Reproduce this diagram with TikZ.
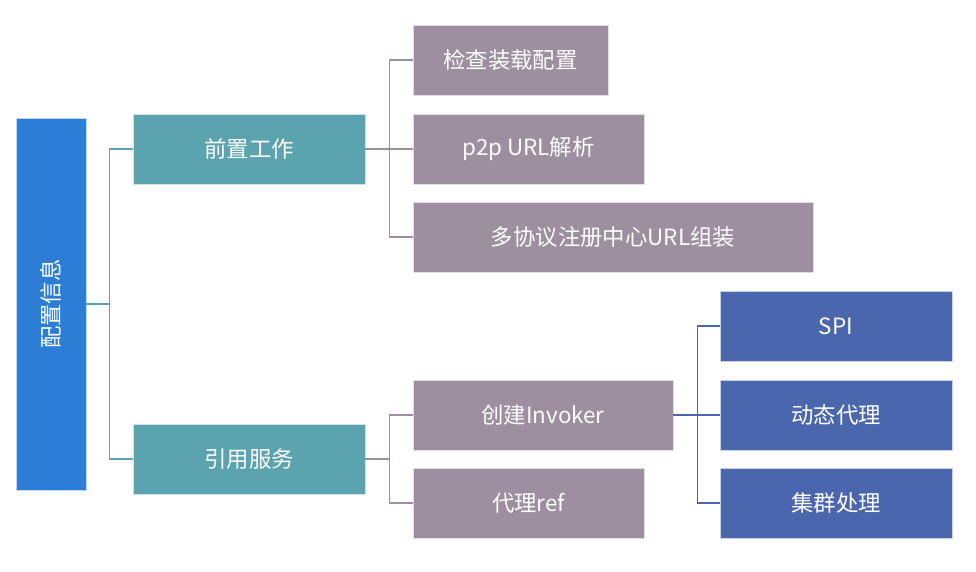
\documentclass[tikz,border=0pt]{standalone}
\usepackage{fontspec}
\setmainfont{Noto Sans CJK SC}
\usetikzlibrary{calc}
\definecolor{rootblue}{HTML}{2B7DD6}
\definecolor{tealbox}{HTML}{5BA3AE}
\definecolor{mauvebox}{HTML}{9D8F9F}
\definecolor{indigobox}{HTML}{4A66AD}
\tikzset{
  box/.style={draw=white!70!#1, line width=0.6pt, fill=#1, text=white,
    minimum height=52.5pt, inner sep=0pt, font=\fontsize{16.8}{20}\selectfont},
  link/.style={draw=#1, line width=1pt},
}
\begin{document}
\begin{tikzpicture}[x=0.75pt,y=-0.75pt]
\useasboundingbox (0,0) rectangle (976,572);
% root
\node[box=rootblue, minimum width=52.5pt, minimum height=279pt] (root) at (51,304) {};
\node[rotate=90, text=white, font=\fontsize{16.8}{20}\selectfont] (rootlbl) at (root.center) {配置信息};
% second level
\node[box=tealbox, minimum width=174pt] (prep) at (249,149) {前置工作};
\node[box=tealbox, minimum width=174pt] (ref) at (249,459) {引用服务};
% preparation steps
\node[box=mauvebox, minimum width=146.25pt] (check) at (510.5,60) {检查装载配置};
\node[box=mauvebox, minimum width=173.25pt] (p2p) at (528.5,149) {p2p URL解析};
\node[box=mauvebox, minimum width=300pt] (multi) at (613,237) {多协议注册中心URL组装};
% reference steps
\node[box=mauvebox, minimum width=195pt] (invoker) at (543,415) {创建Invoker};
\node[box=mauvebox, minimum width=173.25pt] (proxy) at (528.5,503) {代理ref};
% invoker details
\node[box=indigobox, minimum width=174pt] (spi) at (836,326) {SPI};
\node[box=indigobox, minimum width=174pt] (dyn) at (836,415) {动态代理};
\node[box=indigobox, minimum width=174pt] (cluster) at (836,503) {集群处理};
% connectors
\draw[link=tealbox] (root.east) -- ++(23,0) |- (prep.west);
\draw[link=tealbox] (root.east) -- ++(23,0) |- (ref.west);
\draw[link=mauvebox] (prep.east) -- ++(24,0) |- (check.west);
\draw[link=mauvebox] (prep.east) -- (p2p.west);
\draw[link=mauvebox] (prep.east) -- ++(24,0) |- (multi.west);
\draw[link=mauvebox] (ref.east) -- ++(24,0) |- (invoker.west);
\draw[link=mauvebox] (ref.east) -- ++(24,0) |- (proxy.west);
\draw[link=indigobox] (invoker.east) -- ++(24,0) |- (spi.west);
\draw[link=indigobox] (invoker.east) -- (dyn.west);
\draw[link=indigobox] (invoker.east) -- ++(24,0) |- (cluster.west);
\end{tikzpicture}
\end{document}
